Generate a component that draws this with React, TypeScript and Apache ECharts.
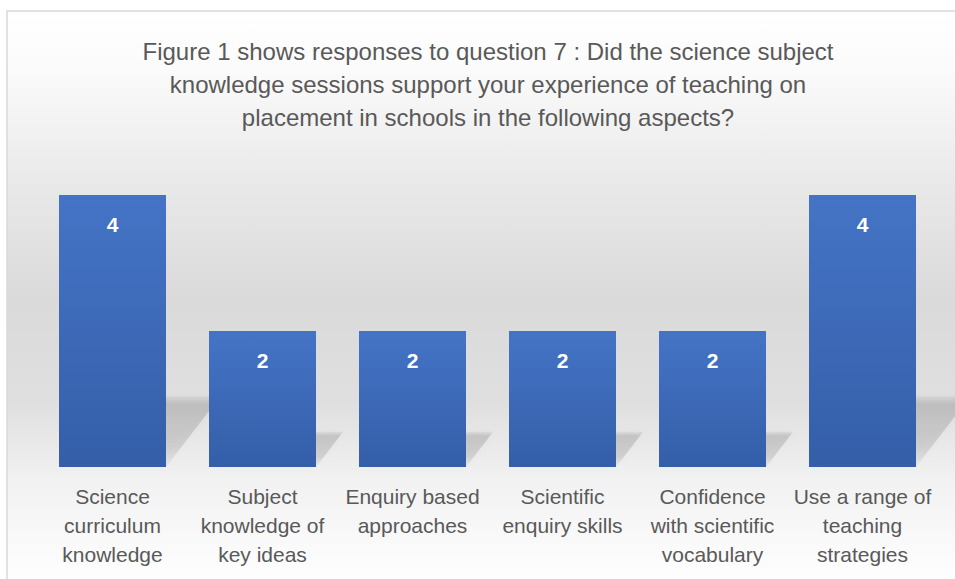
import React, { useEffect, useRef } from "react";
import * as echarts from "echarts";

const titleLines = [
  "Figure 1 shows responses to question 7 : Did the science subject",
  "knowledge sessions support your experience of teaching on",
  "placement in schools in the following aspects?",
];

const categories = [
  "Science\ncurriculum\nknowledge",
  "Subject\nknowledge of\nkey ideas",
  "Enquiry based\napproaches",
  "Scientific\nenquiry skills",
  "Confidence\nwith scientific\nvocabulary",
  "Use a range of\nteaching\nstrategies",
];

const values = [4, 2, 2, 2, 2, 4];

const FONT = "'Liberation Sans', Arial, sans-serif";
const BAR_WIDTH = 107;

export default function App() {
  const ref = useRef<HTMLDivElement>(null);

  useEffect(() => {
    document.body.style.margin = "0";
    if (!ref.current) return;
    const chart = echarts.init(ref.current, null, { renderer: "svg" });

    const option: any = {
      animation: false,
      graphic: [
        {
          type: "rect",
          z: -10,
          shape: { x: 7, y: 11, width: 962, height: 575 },
          style: {
            fill: new echarts.graphic.LinearGradient(0, 0, 0, 1, [
              { offset: 0, color: "#ffffff" },
              { offset: 0.1, color: "#fbfbfb" },
              { offset: 0.3, color: "#e9e9e9" },
              { offset: 0.5, color: "#dadada" },
              { offset: 0.68, color: "#dfdfdf" },
              { offset: 0.82, color: "#f2f2f2" },
              { offset: 1, color: "#ffffff" },
            ]),
            stroke: "#d9d9d9",
            lineWidth: 1.5,
          },
        },
      ],
      title: {
        text: titleLines.join("\n"),
        left: 483,
        top: 30,
        textAlign: "center",
        textStyle: {
          fontFamily: FONT,
          fontSize: 24,
          lineHeight: 33,
          fontWeight: "normal",
          color: "#595959",
        },
      },
      grid: { left: 37.5, right: 17.5, top: 195, bottom: 112 },
      xAxis: {
        type: "category",
        data: categories,
        axisLine: { show: false },
        axisTick: { show: false },
        axisLabel: {
          interval: 0,
          margin: 15,
          fontFamily: FONT,
          fontSize: 21,
          lineHeight: 29,
          color: "#595959",
        },
      },
      yAxis: {
        type: "value",
        min: 0,
        max: 4,
        show: false,
        splitLine: { show: false },
      },
      series: [
        {
          type: "custom",
          z: 1,
          silent: true,
          data: values.map((v, i) => [i, v]),
          renderItem: (params: any, api: any) => {
            const i = api.value(0);
            const v = api.value(1);
            const base = api.coord([i, 0]);
            const top = api.coord([i, v]);
            const h = base[1] - top[1];
            const k = 0.26;
            const dx = 0.2 * h;
            const half = BAR_WIDTH / 2;
            const xl = base[0] - half;
            const xr = base[0] + half;
            const b = base[1];
            return {
              type: "polygon",
              shape: {
                points: [
                  [xl, b],
                  [xr, b],
                  [xr + dx, b - k * h],
                  [xl + dx, b - k * h],
                ],
              },
              style: {
                fill: new echarts.graphic.LinearGradient(0, 0, 0, 1, [
                  { offset: 0, color: "rgba(0,0,0,0.04)" },
                  { offset: 0.12, color: "rgba(0,0,0,0.14)" },
                  { offset: 0.7, color: "rgba(0,0,0,0.11)" },
                  { offset: 1, color: "rgba(0,0,0,0.03)" },
                ]),
                shadowBlur: 10,
                shadowColor: "rgba(0,0,0,0.12)",
              },
            };
          },
        },
        {
          type: "bar",
          z: 2,
          data: values,
          barWidth: BAR_WIDTH,
          itemStyle: {
            color: new echarts.graphic.LinearGradient(0, 0, 0, 1, [
              { offset: 0, color: "#4574c6" },
              { offset: 1, color: "#345ea8" },
            ]),
          },
          label: {
            show: true,
            position: "insideTop",
            distance: 19,
            fontFamily: FONT,
            fontSize: 21,
            fontWeight: "bold",
            color: "#ffffff",
          },
        },
      ],
    };

    chart.setOption(option);
    return () => chart.dispose();
  }, []);

  return <div ref={ref} style={{ width: 955, height: 579 }} />;
}
